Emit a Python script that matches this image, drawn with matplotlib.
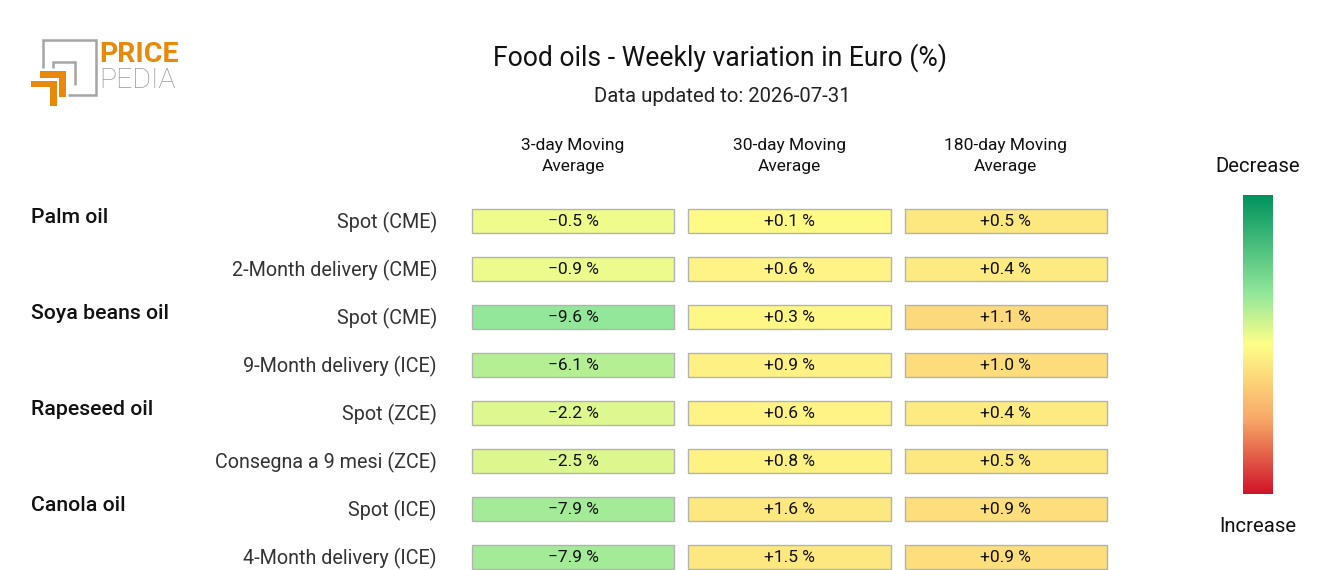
import numpy as np
import matplotlib
matplotlib.use("Agg")
import matplotlib.pyplot as plt
from matplotlib.colors import LinearSegmentedColormap, Normalize
from matplotlib.patches import Rectangle
from matplotlib.transforms import blended_transform_factory

plt.rcParams['font.family'] = ['Roboto', 'DejaVu Sans']

# ---------------- data ----------------
groups = ["Palm oil", "", "Soya beans oil", "", "Rapeseed oil", "", "Canola oil", ""]
items = ["Spot (CME)", "2-Month delivery (CME)", "Spot (CME)", "9-Month delivery (ICE)",
         "Spot (ZCE)", "Consegna a 9 mesi (ZCE)", "Spot (ICE)", "4-Month delivery (ICE)"]
columns = ["3-day Moving\nAverage", "30-day Moving\nAverage", "180-day Moving\nAverage"]
ma3 = [-0.5, -0.9, -9.6, -6.1, -2.2, -2.5, -7.9, -7.9]
ma30 = [0.1, 0.6, 0.3, 0.9, 0.6, 0.8, 1.6, 1.5]
ma180 = [0.5, 0.4, 1.1, 1.0, 0.4, 0.5, 0.9, 0.9]
title = "Food oils - Weekly variation in Euro (%)"
subtitle = "Data updated to: 2026-07-31"

# ---------------- style ----------------
W, H = 1320, 570
col_norms = [(-30.2, 32.3), (-14.6, 14.0), (-7.6, 6.7)]
cmap = LinearSegmentedColormap.from_list(
    "pp", [(0.0, "#00935e"), (0.33, "#92e79a"), (0.5, "#ffff88"),
           (0.75, "#f8a868"), (1.0, "#d0142a")])

fig = plt.figure(figsize=(W / 100, H / 100), dpi=100)

def fx(px):
    return px / W

def fy(py):
    return 1 - py / H

# background overlay in pixel coordinates (logo)
bg = fig.add_axes([0, 0, 1, 1], zorder=0)
bg.set_xlim(0, W)
bg.set_ylim(H, 0)
bg.axis("off")
gray = "#a5a5a5"
orange = "#e8890c"
bg.plot([42.5, 42.5, 95.5, 95.5, 68], [68, 40, 40, 94.5, 94.5], color=gray,
        lw=1.8, solid_capstyle="butt", solid_joinstyle="miter")
bg.plot([52.5, 52.5, 74.5, 74.5], [68, 61.5, 61.5, 84.5], color=gray, lw=1.8,
        solid_capstyle="butt", solid_joinstyle="miter")
bg.add_patch(Rectangle((40, 71), 25.7, 6.7, color=orange, lw=0))
bg.add_patch(Rectangle((59.3, 71), 6.4, 25.7, color=orange, lw=0))
bg.add_patch(Rectangle((31, 81), 25.7, 6.4, color=orange, lw=0))
bg.add_patch(Rectangle((50.3, 81), 6.4, 25.3, color=orange, lw=0))
bg.text(99, 55, "PRICE", color=orange, fontsize=20.5, fontweight="bold",
        ha="left", va="center")
bg.text(99, 80, "PEDIA", color="#999999", fontsize=20.5, fontweight="light",
        ha="left", va="center")

# titles
fig.text(fx(720), fy(58), title, ha="center", va="center", fontsize=19.1,
         color="#111111")
fig.text(fx(722), fy(97), subtitle, ha="center", va="center", fontsize=14.6,
         color="#222222")

# main table axes: columns at x=0..2 (216 px pitch), rows at y=0..7 (48 px pitch)
left_px, right_px = 465, 1114
top_px, bot_px = 197, 581
ax = fig.add_axes([fx(left_px), fy(bot_px), (right_px - left_px) / W,
                   (bot_px - top_px) / H], zorder=1)
ax.set_xlim(-0.5, 2.5)
ax.set_ylim(7.5, -0.5)
ax.axis("off")

data = [ma3, ma30, ma180]
cw, ch = 202 / 216, 24 / 48
for j, vals in enumerate(data):
    norm = Normalize(*col_norms[j])
    for i, v in enumerate(vals):
        ax.add_patch(Rectangle((j - cw / 2, i - ch / 2), cw, ch,
                               facecolor=cmap(norm(v)), edgecolor="#b3b3b3",
                               lw=1.0, clip_on=False))
        txt = f"{v:+.1f} %".replace("-", "\u2212")
        ax.text(j, i, txt, ha="center", va="center", fontsize=12.5,
                color="#111111", clip_on=False)
    ax.text(j, -0.5 - 41 / 48, columns[j], ha="center", va="center",
            fontsize=12.5, color="#111111", linespacing=1.55, clip_on=False)

tr = blended_transform_factory(fig.transFigure, ax.transData)
for i, (g, it) in enumerate(zip(groups, items)):
    ax.text(fx(437), i + 1 / 48, it, transform=tr, ha="right", va="center",
            fontsize=14.2, color="#333333", clip_on=False)
    if g:
        ax.text(fx(31), i - 4 / 48, g, transform=tr, ha="left", va="center",
                fontsize=15.3, fontweight="medium", color="#111111",
                clip_on=False)

# colour legend
cax = fig.add_axes([fx(1243), fy(494), 30 / W, (494 - 195) / H])
grad = np.linspace(0, 1, 256)[:, None]
cax.imshow(grad, aspect="auto", cmap=cmap, origin="upper")
cax.axis("off")
fig.text(fx(1258), fy(166), "Decrease", ha="center", va="center", fontsize=14.6,
         color="#111111")
fig.text(fx(1258), fy(526), "Increase", ha="center", va="center", fontsize=14.6,
         color="#111111")

fig.savefig("out.png", dpi=100)
